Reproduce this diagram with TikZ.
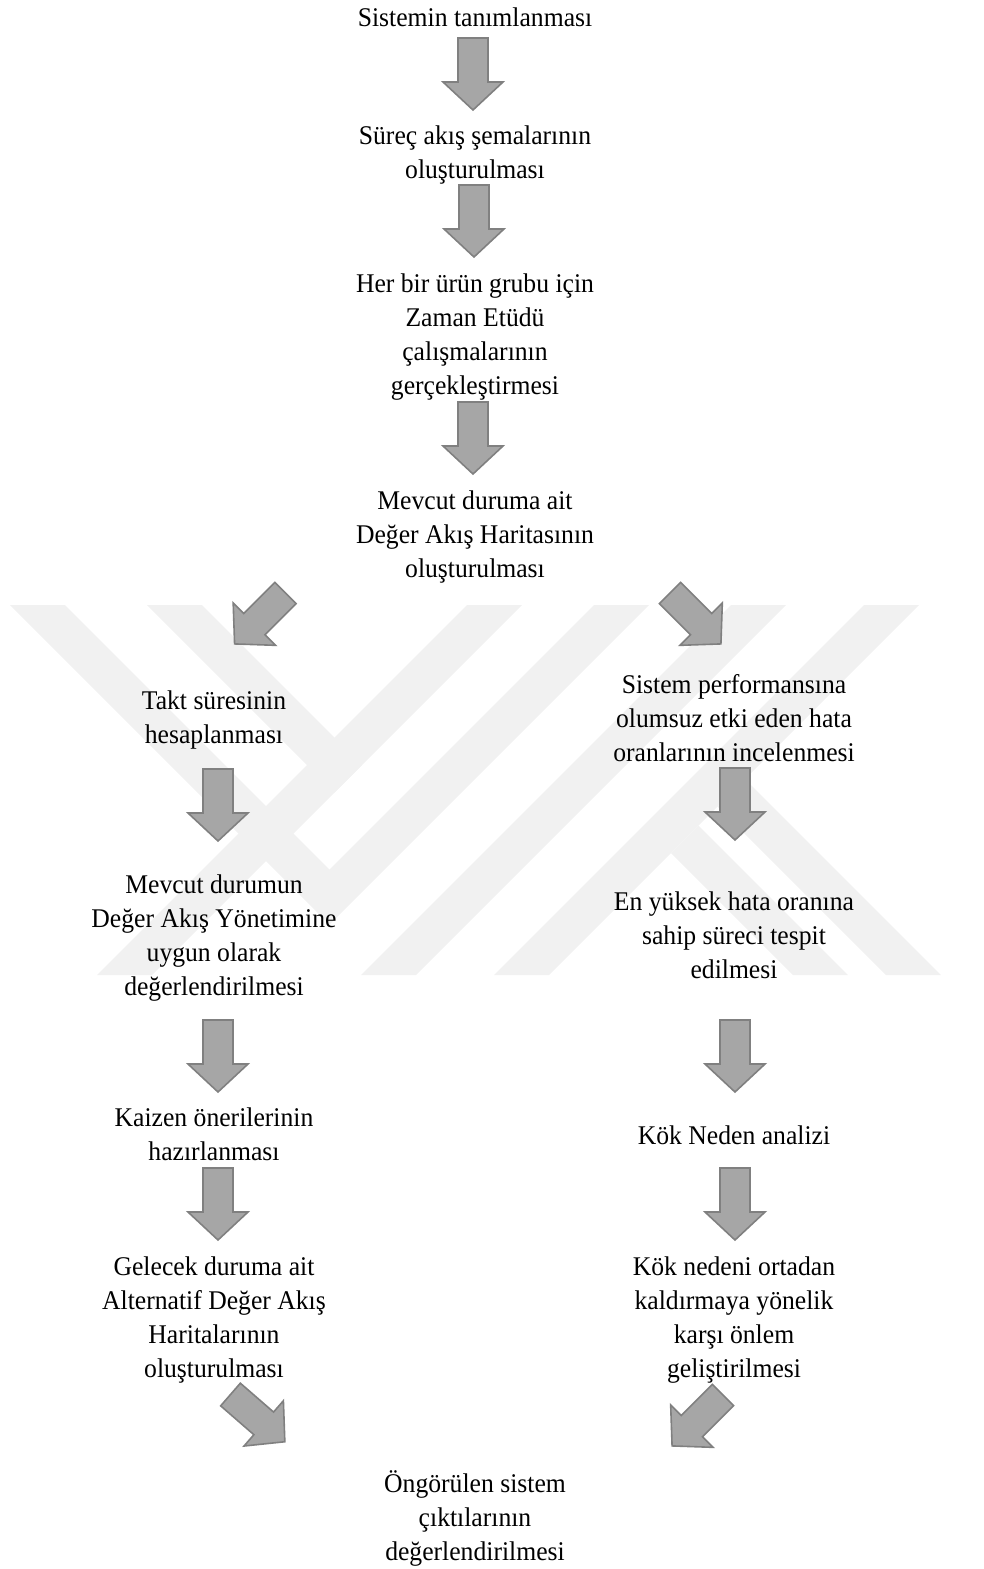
\documentclass[tikz,border=0pt]{standalone}
\usepackage{fontspec}
\setmainfont{Liberation Serif}[FakeStretch=0.95]
\definecolor{arrowgray}{HTML}{A6A6A6}
\definecolor{arrowedge}{HTML}{808080}
\definecolor{markgray}{HTML}{F1F1F1}
\begin{document}
\begin{tikzpicture}[x=1pt,y=-1pt,
  lbl/.style={align=center, inner sep=0pt,
    font=\fontsize{27}{34}\selectfont,
    execute at begin node=\strut, execute at end node=\strut},
  arrowshape/.style={fill=arrowgray, draw=arrowedge, line width=1.6pt, line join=miter},
  band/.style={fill=markgray},
  barrow/.pic={\path[arrowshape] (-15,0) -- (15,0) -- (15,44) -- (30,44)
      -- (0,72) -- (-30,44) -- (-15,44) -- cycle;}]
\useasboundingbox (0,0) rectangle (984,1569);

% faint striped emblem in the background
\fill[band] (10,605) -- (65,605) -- (329.5,869.5) -- (594,605) -- (649,605) -- (329.5,924.5) -- cycle;
\fill[band] (147,605) -- (202,605) -- (362,765) -- (334.5,792.5) -- cycle;
\fill[band] (467,605) -- (522,605) -- (152,975) -- (97,975) -- cycle;
\fill[band] (731,605) -- (786,605) -- (416,975) -- (361,975) -- cycle;
\fill[band] (864,605) -- (919,605) -- (549,975) -- (494,975) -- cycle;
\fill[band] (671,853) -- (698.5,825.5) -- (848,975) -- (793,975) -- cycle;
\fill[band] (717.5,806.5) -- (745,779) -- (941,975) -- (886,975) -- cycle;

% main column
\node[lbl] (s1) at (475,20) {Sistemin tanımlanması};
\node[lbl] (s2) at (475,157) {Süreç akış şemalarının\\oluşturulması};
\node[lbl] (s3) at (475,339) {Her bir ürün grubu için\\Zaman Etüdü\\çalışmalarının\\gerçekleştirmesi};
\node[lbl] (s4) at (475,539) {Mevcut duruma ait\\Değer Akış Haritasının\\oluşturulması};

% left branch
\node[lbl] (l1) at (214,722) {Takt süresinin\\hesaplanması};
\node[lbl] (l2) at (214,940) {Mevcut durumun\\Değer Akış Yönetimine\\uygun olarak\\değerlendirilmesi};
\node[lbl] (l3) at (214,1139) {Kaizen önerilerinin\\hazırlanması};
\node[lbl] (l4) at (214,1322) {Gelecek duruma ait\\Alternatif Değer Akış\\Haritalarının\\oluşturulması};

% right branch
\node[lbl] (r1) at (734,723) {Sistem performansına\\olumsuz etki eden hata\\oranlarının incelenmesi};
\node[lbl] (r2) at (734,940) {En yüksek hata oranına\\sahip süreci tespit\\edilmesi};
\node[lbl] (r3) at (734,1138) {Kök Neden analizi};
\node[lbl] (r4) at (734,1322) {Kök nedeni ortadan\\kaldırmaya yönelik\\karşı önlem\\geliştirilmesi};

% final step
\node[lbl] (s5) at (475,1521) {Öngörülen sistem\\çıktılarının\\değerlendirilmesi};

% block arrows
\pic (a1) at (473,38) {barrow};
\pic (a2) at (474,185) {barrow};
\pic (a3) at (473,402) {barrow};
\pic[rotate=-45] (a4) at (285.5,593) {barrow};
\pic[rotate=45] (a5) at (670,593) {barrow};
\pic (a6) at (218,769) {barrow};
\pic (a7) at (218,1020) {barrow};
\pic (a8) at (218,1168) {barrow};
\pic[rotate=49] (a9) at (230.5,1394.5) {barrow};
\pic (a10) at (735,768) {barrow};
\pic (a11) at (735,1020) {barrow};
\pic (a12) at (735,1168) {barrow};
\pic[rotate=-45] (a13) at (723,1395) {barrow};
\end{tikzpicture}
\end{document}
